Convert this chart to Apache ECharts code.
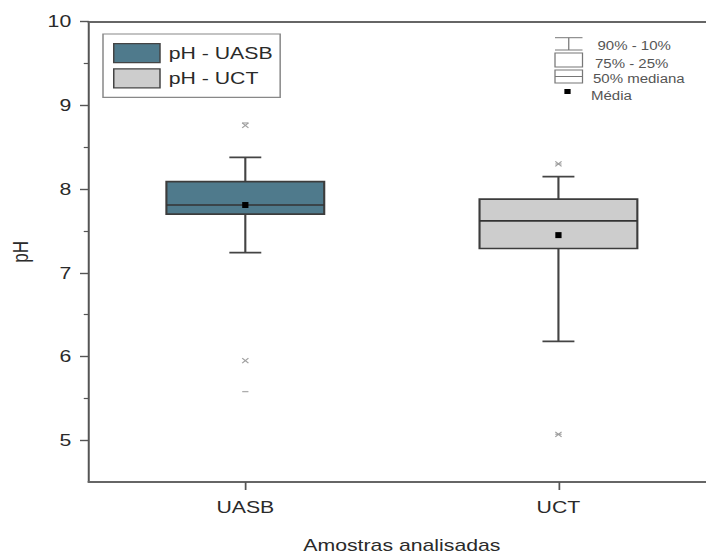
<!DOCTYPE html>
<html>
<head>
<meta charset="utf-8">
<script src="https://cdn.jsdelivr.net/npm/echarts@6/dist/echarts.min.js"></script>
<style>
  html, body { margin: 0; padding: 0; width: 706px; height: 559px; overflow: hidden; background: #fff; }
  /* the original figure is stretched horizontally, so the chart is drawn narrower and scaled */
  #main { width: 572px; height: 559px; transform: scaleX(1.25); transform-origin: 0 0; }
</style>
</head>
<body>
<div id="main"></div>
<script>
const categories = ['UASB', 'UCT'];
const seriesNames = ['pH - UASB', 'pH - UCT'];
const whiskerLow = [7.24, 6.18];
const q1 = [7.70, 7.29];
const median = [7.81, 7.62];
const q3 = [8.09, 7.88];
const whiskerHigh = [8.38, 8.15];
const mean = [7.81, 7.45];
const pct1 = [5.95, 5.07];
const pct99 = [8.76, 8.30];
const minVal = [5.58, 5.07];
const maxVal = [8.79, 8.30];
const yTicks = [5, 6, 7, 8, 9, 10];
const yMinorTicks = [5.5, 6.5, 7.5, 8.5, 9.5];

const fills = ['#4f7a8c', '#cdcdcd'];
const font = 'Liberation Sans, Arial, sans-serif';

const chartDom = document.getElementById('main');
const chart = echarts.init(chartDom, null, { renderer: 'svg' });

function renderBox(params, api) {
  const x = api.value(0);
  const half = 0.252, cap = 0.051;
  const pLow = api.coord([x, api.value(1)]);
  const pQ1 = api.coord([x, api.value(2)]);
  const pMed = api.coord([x, api.value(3)]);
  const pQ3 = api.coord([x, api.value(4)]);
  const pHigh = api.coord([x, api.value(5)]);
  const pMean = api.coord([x, api.value(6)]);
  const left = api.coord([x - half, 5])[0];
  const right = api.coord([x + half, 5])[0];
  const capL = api.coord([x - cap, 5])[0];
  const capR = api.coord([x + cap, 5])[0];
  const line = { stroke: '#444', lineWidth: 1.7 };
  return {
    type: 'group',
    children: [
      { type: 'line', shape: { x1: pLow[0], y1: pLow[1], x2: pQ1[0], y2: pQ1[1] }, style: line },
      { type: 'line', shape: { x1: pQ3[0], y1: pQ3[1], x2: pHigh[0], y2: pHigh[1] }, style: line },
      { type: 'line', shape: { x1: capL, y1: pLow[1], x2: capR, y2: pLow[1] }, style: line },
      { type: 'line', shape: { x1: capL, y1: pHigh[1], x2: capR, y2: pHigh[1] }, style: line },
      { type: 'rect', shape: { x: left, y: pQ3[1], width: right - left, height: pQ1[1] - pQ3[1] },
        style: { fill: api.visual('color'), stroke: '#3c3c3c', lineWidth: 1.7 } },
      { type: 'line', shape: { x1: left, y1: pMed[1], x2: right, y2: pMed[1] }, style: { stroke: '#333', lineWidth: 1.7 } },
      { type: 'rect', shape: { x: pMean[0] - 2.5, y: pMean[1] - 3, width: 5, height: 6 }, style: { fill: '#000' } }
    ]
  };
}

const boxSeries = categories.map((c, i) => ({
  name: seriesNames[i],
  type: 'custom',
  renderItem: renderBox,
  itemStyle: { color: fills[i], borderColor: '#444', borderWidth: 1 },
  encode: { x: 0, y: [1, 2, 3, 4, 5] },
  data: [[i + 1, whiskerLow[i], q1[i], median[i], q3[i], whiskerHigh[i], mean[i]]],
  z: 2
}));

const crossData = [];
const dashData = [];
categories.forEach((c, i) => {
  crossData.push([i + 1, pct1[i]], [i + 1, pct99[i]]);
  dashData.push([i + 1, minVal[i]], [i + 1, maxVal[i]]);
});

const g = (t) => ({ stroke: '#777', lineWidth: 1, fill: t || 'none' });

const option = {
  animation: false,
  backgroundColor: '#fff',
  textStyle: { fontFamily: font },
  grid: { left: 68, right: 0, top: 21.7, bottom: 74.7 },
  legend: {
    orient: 'vertical',
    left: 82.4,
    top: 34,
    padding: [9, 6, 9, 8],
    itemGap: 5,
    itemWidth: 37,
    itemHeight: 19,
    borderColor: '#888',
    borderWidth: 1.2,
    backgroundColor: '#fff',
    textStyle: { fontSize: 17, color: '#2a2a2a', fontFamily: font, padding: [0, 0, 0, 2] },
    itemStyle: { borderColor: '#444', borderWidth: 1.2 },
    data: seriesNames.map(n => ({ name: n, icon: 'rect' }))
  },
  xAxis: [
    {
      type: 'value',
      min: 0.5,
      max: 2.5,
      name: 'Amostras analisadas',
      nameLocation: 'middle',
      nameGap: 55,
      nameTextStyle: { fontSize: 17, color: '#2a2a2a', fontFamily: font },
      axisLine: { show: true, lineStyle: { color: '#666', width: 2.2 } },
      axisTick: { show: true, length: 8, customValues: [1, 2], lineStyle: { color: '#555', width: 1.4 } },
      axisLabel: { customValues: [1, 2], formatter: v => categories[Math.round(v) - 1] || '', fontSize: 17, color: '#2a2a2a', margin: 17 },
      splitLine: { show: false }
    },
    {
      type: 'value',
      position: 'top',
      min: 0.5,
      max: 2.5,
      axisLine: { show: true, lineStyle: { color: '#666', width: 2.2 } },
      axisTick: { show: false },
      axisLabel: { show: false },
      splitLine: { show: false }
    }
  ],
  yAxis: [
    {
      type: 'value',
      min: 4.5,
      max: 10,
      interval: 0.5,
      name: 'pH',
      nameLocation: 'middle',
      nameGap: 46,
      nameTextStyle: { fontSize: 17, color: '#2a2a2a', fontFamily: font },
      axisLine: { show: true, lineStyle: { color: '#555', width: 1.6 } },
      axisTick: { show: true, length: 7, customValues: yTicks, lineStyle: { color: '#555', width: 1.4 } },
      axisLabel: { customValues: yTicks, fontSize: 17, color: '#2a2a2a', margin: 14 },
      splitLine: { show: false }
    },
    {
      type: 'value',
      position: 'left',
      min: 4.5,
      max: 10,
      interval: 0.5,
      axisLine: { show: false },
      axisTick: { show: true, length: 4, customValues: yMinorTicks, lineStyle: { color: '#555', width: 1.2 } },
      axisLabel: { show: false },
      splitLine: { show: false }
    }
  ],
  graphic: [
    { type: 'line', shape: { x1: 444, y1: 37.7, x2: 466, y2: 37.7 }, style: g() },
    { type: 'line', shape: { x1: 455, y1: 37.7, x2: 455, y2: 50 }, style: g() },
    { type: 'line', shape: { x1: 444, y1: 50, x2: 466, y2: 50 }, style: g() },
    { type: 'rect', shape: { x: 444, y: 53, width: 22, height: 14 }, style: g() },
    { type: 'rect', shape: { x: 444, y: 70, width: 22, height: 13 }, style: g() },
    { type: 'line', shape: { x1: 444, y1: 76.5, x2: 466, y2: 76.5 }, style: g() },
    { type: 'rect', shape: { x: 451.5, y: 89, width: 5, height: 5 }, style: { fill: '#000' } },
    { type: 'text', x: 478, y: 45.6, style: { text: '90% - 10%', fontSize: 12, fill: '#555', fontFamily: font, verticalAlign: 'middle' } },
    { type: 'text', x: 476, y: 64, style: { text: '75% - 25%', fontSize: 12, fill: '#555', fontFamily: font, verticalAlign: 'middle' } },
    { type: 'text', x: 474.4, y: 79.3, style: { text: '50% mediana', fontSize: 12, fill: '#555', fontFamily: font, verticalAlign: 'middle' } },
    { type: 'text', x: 472.8, y: 96, style: { text: 'Média', fontSize: 12, fill: '#555', fontFamily: font, verticalAlign: 'middle' } }
  ],
  series: [
    ...boxSeries,
    {
      name: 'outliers',
      type: 'scatter',
      data: crossData,
      symbol: 'path://M0,0L10,10M10,0L0,10',
      symbolSize: 5,
      itemStyle: { color: 'none', borderColor: '#888', borderWidth: 1 },
      z: 3
    },
    {
      name: 'min-max',
      type: 'scatter',
      data: dashData,
      symbol: 'rect',
      symbolSize: [5, 1.3],
      itemStyle: { color: '#999' },
      z: 3
    }
  ]
};
chart.setOption(option);
</script>
</body>
</html>
